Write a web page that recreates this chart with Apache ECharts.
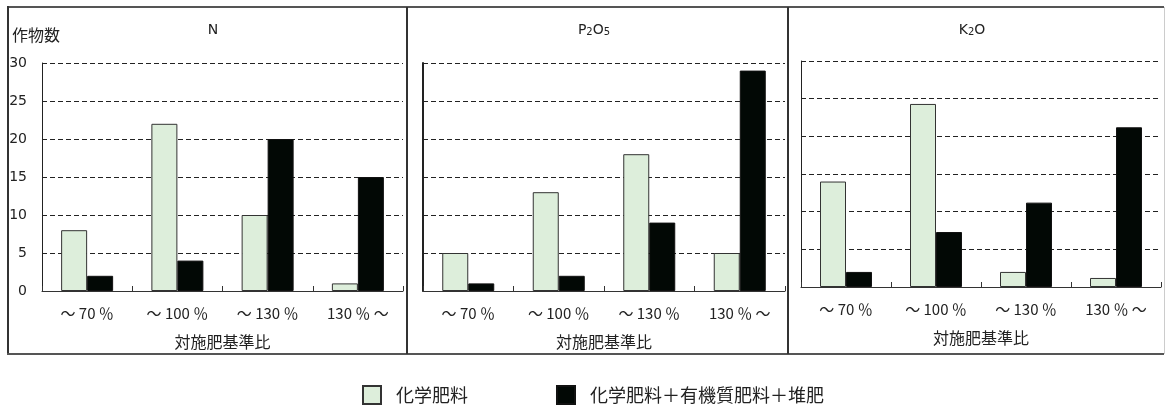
<!DOCTYPE html>
<html><head><meta charset="utf-8">
<script src="https://cdn.jsdelivr.net/npm/echarts@6/dist/echarts.min.js"></script>
<style>html,body{margin:0;padding:0;background:#fff}#c{width:1166px;height:407px}</style>
</head><body><div id="c"></div>
<script>
const categories = ['～ 70 ％', '～ 100 ％', '～ 130 ％', '130 ％ ～'];
const seriesNames = ['化学肥料', '化学肥料＋有機質肥料＋堆肥'];
const nChem = [8, 22, 10, 1];
const nOrg = [2, 4, 20, 15];
const pChem = [5, 13, 18, 5];
const pOrg = [1, 2, 9, 29];
const kChem = [14, 24.3, 2, 1.2];
const kOrg = [2, 7.3, 11.2, 21.2];
const yTicks = [0, 5, 10, 15, 20, 25, 30];
const panelTitles = ['N', '{n|P}{s|2}{n|O}{s|5}', '{n|K}{s|2}{n|O}'];
const yName = '作物数';
const xName = '対施肥基準比';

const FONT = '"Noto Sans CJK JP", "Noto Sans", sans-serif';
const chart = echarts.init(document.getElementById('c'), null, {renderer: 'canvas'});
const grids = [
  {left: 42, top: 63, width: 361, height: 228},
  {left: 423, top: 63, width: 362, height: 228},
  {left: 801, top: 61, width: 360, height: 226}
];
const yMax = yTicks[yTicks.length - 1];
const yStep = yTicks[1] - yTicks[0];
const xAxes = grids.map((g, i) => ({
  type: 'category', gridIndex: i, data: categories,
  axisLine: {lineStyle: {color: '#333', width: 1}},
  axisTick: {show: true, inside: true, length: 5, interval: 0, lineStyle: {color: '#333'}},
  axisLabel: {color: '#222', fontSize: 15, fontFamily: FONT, margin: 15, interval: 0},
  name: xName, nameLocation: 'middle', nameGap: 43,
  nameTextStyle: {color: '#222', fontSize: 16, fontFamily: FONT}
}));
const yAxes = grids.map((g, i) => ({
  type: 'value', gridIndex: i, min: yTicks[0], max: yMax, interval: yStep,
  axisLine: {show: true, lineStyle: {color: '#222', width: i === 1 ? 2 : 1}},
  axisTick: {show: false},
  axisLabel: {show: i === 0, color: '#222', fontSize: 14, fontFamily: 'DejaVu Sans', margin: 15},
  splitLine: {show: true, lineStyle: {color: '#222', type: [5, 3], width: 1}}
}));
const dataSets = [[nChem, nOrg], [pChem, pOrg], [kChem, kOrg]];
const series = [];
dataSets.forEach((pair, i) => {
  pair.forEach((vals, j) => {
    series.push({
      type: 'bar', name: seriesNames[j], xAxisIndex: i, yAxisIndex: i,
      data: vals, barWidth: 26, barGap: '0%',
      itemStyle: j === 0
        ? {color: '#ddeedb', borderColor: '#333', borderWidth: 1}
        : {color: '#020805', borderColor: '#111', borderWidth: 1},
      emphasis: {disabled: true}
    });
  });
});
const titleX = [208, 589, 967];
const titles = panelTitles.map((t, i) => ({
  text: t, left: titleX[i], top: 18, textAlign: 'center',
  textStyle: {color: '#222', fontSize: 14, fontWeight: 'normal', fontFamily: 'DejaVu Sans',
    rich: {n: {fontSize: 14, fontFamily: 'DejaVu Sans', color: '#222'},
           s: {fontSize: 10, fontFamily: 'DejaVu Sans', color: '#222', padding: [4, 0, 0, 0]}}}
}));
chart.setOption({
  animation: false,
  title: titles,
  grid: grids,
  xAxis: xAxes,
  yAxis: yAxes,
  series: series,
  legend: {
    data: seriesNames, left: 357, top: 380, itemWidth: 18, itemHeight: 18, itemGap: 88,
    icon: 'rect', selectedMode: false,
    textStyle: {color: '#222', fontSize: 18, fontFamily: FONT, padding: [0, 0, 0, 10]}
  },
  graphic: [
    {type: 'text', left: 12, top: 27, style: {text: yName, fontSize: 16, fontFamily: FONT, fill: '#222'}},
    {type: 'line', shape: {x1: 7, y1: 7, x2: 1164, y2: 7}, style: {stroke: '#555', lineWidth: 2}},
    {type: 'line', shape: {x1: 8, y1: 6, x2: 8, y2: 355}, style: {stroke: '#333', lineWidth: 2}},
    {type: 'line', shape: {x1: 7, y1: 354, x2: 1164, y2: 354}, style: {stroke: '#555', lineWidth: 2}},
    {type: 'line', shape: {x1: 1164.5, y1: 7, x2: 1164.5, y2: 354}, style: {stroke: '#ccc', lineWidth: 1}},
    {type: 'line', shape: {x1: 407, y1: 7, x2: 407, y2: 354}, style: {stroke: '#333', lineWidth: 2}},
    {type: 'line', shape: {x1: 788, y1: 7, x2: 788, y2: 354}, style: {stroke: '#333', lineWidth: 2}}
  ]
});
</script></body></html>
